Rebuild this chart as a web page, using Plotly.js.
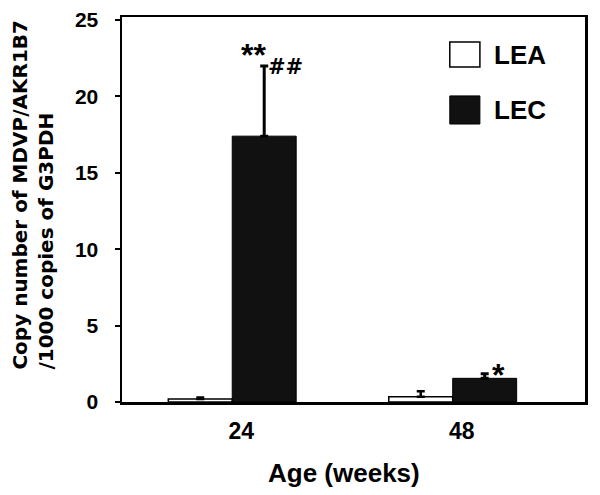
<!DOCTYPE html>
<html>
<head>
<meta charset="utf-8">
<script src="https://cdn.plot.ly/plotly-3.0.1.min.js"></script>
<style>html,body{margin:0;padding:0;background:#fff;}#chart{width:600px;height:495px;}</style>
</head>
<body>
<div id="chart"></div>
<script>
// Data
const ages = ["24", "48"];
const leaValues = [0.2, 0.35];
const leaErrors = [0.1, 0.35];
const lecValues = [17.4, 1.55];
const lecErrors = [4.6, 0.3];
const seriesNames = ["LEA", "LEC"];
const yTicks = [0, 5, 10, 15, 20, 25];
const marks24 = ["**", "##"];
const marks48 = ["*"];

const FONT = "Liberation Sans, Arial, sans-serif";
const WIDE = "DejaVu Sans, Liberation Sans, sans-serif";

const traces = [
  {
    type: "bar", name: seriesNames[0], x: ages, y: leaValues,
    marker: {color: "#ffffff", line: {color: "#000", width: 1.5}},
    error_y: {type: "data", array: leaErrors, arrayminus: leaErrors.map(() => 0), symmetric: false,
              color: "#000", thickness: 2.5, width: 4},
    showlegend: false
  },
  {
    type: "bar", name: seriesNames[1], x: ages, y: lecValues,
    marker: {color: "#111111", line: {color: "#000", width: 1}},
    error_y: {type: "data", array: lecErrors, arrayminus: lecErrors.map(() => 0), symmetric: false,
              color: "#000", thickness: 3, width: 4},
    showlegend: false
  }
];

const i24 = ages.indexOf("24"), i48 = ages.indexOf("48");
const annotations = [
  {x: i24, y: lecValues[i24] + lecErrors[i24], xref: "x", yref: "y", text: marks24[0], showarrow: false,
   xshift: 21, yshift: 11, font: {family: FONT, size: 32, color: "#000", weight: "bold"}},
  {x: i24, y: lecValues[i24] + lecErrors[i24], xref: "x", yref: "y", text: marks24[1], showarrow: false,
   xshift: 53, yshift: -1, font: {family: WIDE, size: 21, color: "#000", weight: "bold"}},
  {x: i48, y: lecValues[i48] + lecErrors[i48], xref: "x", yref: "y", text: marks48[0], showarrow: false,
   xshift: 46, yshift: -1, font: {family: FONT, size: 32, color: "#000", weight: "bold"}},
  // y axis title (two left-aligned lines)
  {x: -0.192, y: 0.539, xref: "paper", yref: "paper", textangle: -90, align: "left",
   xanchor: "center", yanchor: "middle", showarrow: false,
   text: "<b>Copy number of MDVP/AKR1B7<br>/1000 copies of G3PDH</b>",
   font: {family: WIDE, size: 20, color: "#000"}},
  // x axis title
  {x: 0.479, y: -0.184, xref: "paper", yref: "paper", xanchor: "center", yanchor: "middle", showarrow: false,
   text: "<b>Age (weeks)</b>", font: {family: FONT, size: 26, color: "#000"}},
  // legend labels
  {x: 0.80, y: 0.901, xref: "paper", yref: "paper", text: "<b>" + seriesNames[0] + "</b>", showarrow: false,
   xanchor: "left", yanchor: "middle", font: {family: FONT, size: 26, color: "#000"}},
  {x: 0.80, y: 0.758, xref: "paper", yref: "paper", text: "<b>" + seriesNames[1] + "</b>", showarrow: false,
   xanchor: "left", yanchor: "middle", font: {family: FONT, size: 26, color: "#000"}}
];

const shapes = [
  {type: "rect", xref: "paper", yref: "paper", x0: 0.708, x1: 0.773, y0: 0.870, y1: 0.935,
   line: {color: "#000", width: 1.5}, fillcolor: "#fff"},
  {type: "rect", xref: "paper", yref: "paper", x0: 0.708, x1: 0.773, y0: 0.722, y1: 0.795,
   line: {color: "#000", width: 1}, fillcolor: "#111"}
];

const layout = {
  width: 600, height: 495,
  margin: {l: 122, r: 15, t: 17, b: 93},
  paper_bgcolor: "#fff", plot_bgcolor: "#fff",
  barmode: "group", bargap: 0.42, bargroupgap: 0,
  font: {family: FONT, color: "#000"},
  xaxis: {
    type: "category", range: [-0.5, 1.6],
    showline: true, linecolor: "#000", linewidth: 2.5, mirror: true,
    ticks: "", showgrid: false, zeroline: false,
    ticklabelshift: 9, ticklabelstandoff: 7,
    tickfont: {family: FONT, size: 23, color: "#000", weight: "bold"}
  },
  yaxis: {
    range: [0, 25.2], tickvals: yTicks, ticktext: yTicks.map(String),
    showline: true, linecolor: "#000", linewidth: 2.5, mirror: true,
    ticks: "outside", ticklen: 5, tickwidth: 2, tickcolor: "#000",
    ticklabelstandoff: 12,
    showgrid: false, zeroline: false,
    tickfont: {family: FONT, size: 21, color: "#000", weight: "bold"}
  },
  annotations: annotations,
  shapes: shapes
};

Plotly.newPlot("chart", traces, layout, {displayModeBar: false, staticPlot: true});
</script>
</body>
</html>
